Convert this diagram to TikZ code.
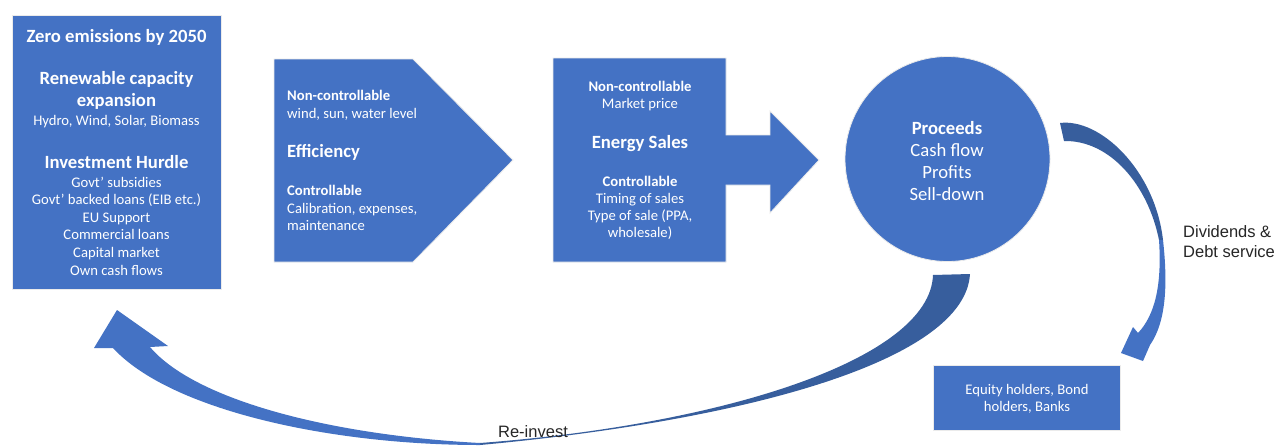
\documentclass[tikz,border=0pt]{standalone}
\usepackage{fontspec}
\setmainfont{Carlito}
\newfontfamily\arialfont{Liberation Sans}
\definecolor{blu}{HTML}{4472C4}
\definecolor{dblu}{HTML}{375E9D}
\definecolor{txtg}{HTML}{262626}
\begin{document}
\begin{tikzpicture}[x=1pt,y=-1pt,
  shp/.style={fill=blu, draw=black!8, line width=0.8pt},
  light/.style={fill=blu, draw=none},
  dark/.style={fill=dblu, draw=none},
  body/.style={text=white, inner sep=0pt, font=\fontsize{14.67}{17.6}\selectfont, align=center},
  bodyl/.style={body, align=left, anchor=west},
  head/.style={text=white, inner sep=0pt, font=\bfseries\fontsize{18.67}{22.5}\selectfont, align=center},
  big/.style={text=white, inner sep=0pt, font=\fontsize{18.67}{22}\selectfont, align=center},
  lab/.style={text=txtg, inner sep=0pt, font=\arialfont\fontsize{16.5}{20}\selectfont}
]
\useasboundingbox (0,0) rectangle (1277,445);
\fill[white] (0,0) rectangle (1277,445);

% box 1
\path[shp] (12,15) rectangle (221,289);
\node[head] (t1) at (116.5,37) {Zero emissions by 2050};
\node[head] (t2) at (116.5,90.5) {Renewable capacity\\expansion};
\node[body] (t3) at (116.5,122) {Hydro, Wind, Solar, Biomass};
\node[head] (t4) at (116.5,162) {Investment Hurdle};
\node[body] (t5) at (116.5,226) {Govt’ subsidies\\Govt’ backed loans (EIB etc.)\\EU Support\\Commercial loans\\Capital market\\Own cash flows};

% pentagon
\path[shp] (274,59) -- (413,59) -- (513,160) -- (413,262) -- (274,262) -- cycle;
\node[bodyl] (e1) at (287,105.5) {\textbf{Non-controllable}\\wind, sun, water level};
\node[head, anchor=west] (e2) at (287,152) {Efficiency};
\node[bodyl] (e3) at (287,208) {\textbf{Controllable}\\Calibration, expenses,\\maintenance};

% energy sales box with arrow
\path[shp] (553,58) -- (726,58) -- (726,135) -- (770,135) -- (770,111) -- (819,160) -- (770,213) -- (770,185) -- (726,185) -- (726,262) -- (553,262) -- cycle;
\node[body] (s1) at (640,96) {\textbf{Non-controllable}\\Market price};
\node[head] (s2) at (640,144) {Energy Sales};
\node[body, font=\fontsize{14.67}{17}\selectfont] (s3) at (640,207.5) {\textbf{Controllable}\\Timing of sales\\Type of sale (PPA,\\wholesale)};

% proceeds circle
\node[shp, circle, minimum size=205pt, inner sep=0pt] (proc) at (947.5,159) {};
\node[big] (ptxt) at (947,161) {\textbf{Proceeds}\\Cash flow\\Profits\\Sell-down};

% equity box
\node[shp, minimum width=187pt, minimum height=65pt, inner sep=0pt] (eq) at (1026.5,397.5) {};
\node[body] (eqtxt) at (1027,399) {Equity holders, Bond\\holders, Banks};

% dividends arrow
\path[dark] (1060,123) .. controls (1100,118) and (1155,170) .. (1163,240) -- (1159,240) .. controls (1148,185) and (1110,140) .. (1064,141) -- cycle;
\path[light] (1159,240) .. controls (1162,285) and (1155,315) .. (1138,333) -- (1133,327) -- (1121,353) -- (1143,361) -- (1150,345) .. controls (1166,322) and (1168,285) .. (1163,240) -- cycle;
\node[lab, anchor=west, align=left] (div) at (1183,241.5) {Dividends \&\\Debt service};

% re-invest arrow
\path[dark] (480,445) .. controls (750,420) and (965,360) .. (970,274) -- (933,275) .. controls (930,360) and (720,425) .. (480,443) -- cycle;
\path[light] (480,443) .. controls (330,435) and (195,400) .. (150,347) -- (168,346) -- (117,310) -- (94,348) -- (113,348) .. controls (170,410) and (330,445) .. (480,445) -- cycle;
\node[lab] (rein) at (533,432) {Re-invest};
\end{tikzpicture}
\end{document}
